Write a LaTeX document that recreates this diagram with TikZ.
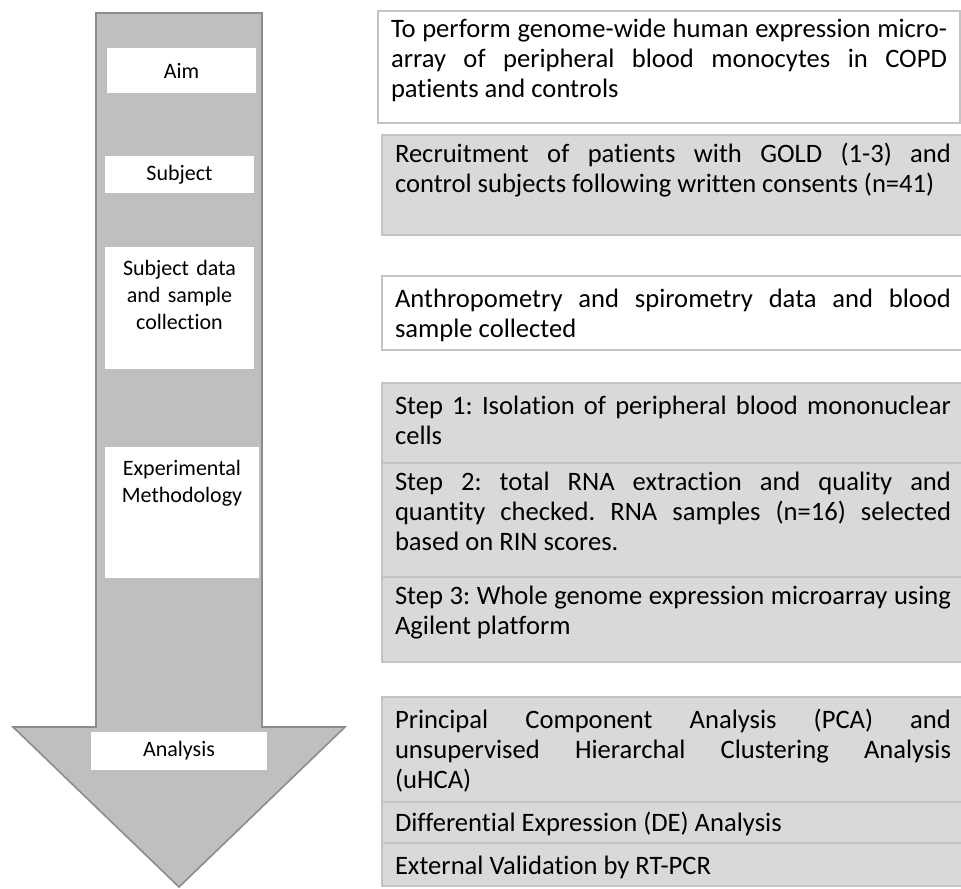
\documentclass[tikz,border=0pt]{standalone}
\usepackage{fontspec}
\setmainfont{Carlito}[Ligatures={NoCommon,NoRequired,NoContextual}]
\usepackage{tikz}
\frenchspacing

\definecolor{arrowgray}{HTML}{BFBFBF}
\definecolor{arrowline}{HTML}{8C8C8C}
\definecolor{boxgray}{HTML}{D9D9D9}
\definecolor{boxline}{HTML}{C4C4C4}

\begin{document}
\begin{tikzpicture}[x=0.5pt,y=-0.5pt,
  stagebox/.style={fill=white,inner sep=0pt,outer sep=0pt,align=center,
    font=\fontsize{11}{13.5}\selectfont},
  topstage/.style={stagebox,anchor=north west,inner ysep=4pt,text height=10pt},
  infobox/.style={draw=boxline,line width=0.8pt,anchor=north west,outer sep=0pt,
    inner xsep=6.5pt,text width=278pt,align=justify,text height=10.5pt,
    font=\fontsize{13.3}{15}\selectfont},
  greybox/.style={infobox,fill=boxgray},
  whitebox/.style={infobox,fill=white}]
\useasboundingbox (0,0) rectangle (961,888);

\draw[fill=arrowgray,draw=arrowline,line width=0.8pt] (96,13) -- (262,13) -- (262,727)
  -- (345,727) -- (179,887) -- (13,727) -- (96,727) -- cycle;

\node[stagebox,minimum width=74.5pt,minimum height=22.5pt] (aim) at (181.5,70.5) {Aim};
\node[stagebox,minimum width=74.5pt,minimum height=18.5pt] (subject) at (179.5,174.5) {Subject};
\node[topstage,text width=74.5pt,text depth=43pt] (collect) at (105,247) {Subject data\\and sample\\collection};
\node[topstage,text width=77pt,text depth=47.5pt] (method) at (105,447) {Experimental\\Methodology};
\node[stagebox,minimum width=88pt,minimum height=19pt] (analysis) at (179,751) {Analysis};

\node[whitebox,inner ysep=3pt,text depth=39.5pt] (aimtext) at (378,11)
  {To perform genome-wide human expression micro-\linebreak array of peripheral blood monocytes in COPD\linebreak patients and controls};
\node[greybox,inner ysep=3pt,text depth=33.5pt] (subjecttext) at (382,135)
  {Recruitment of patients with GOLD (1-3) and\linebreak control subjects following written consents (n=41)};
\node[whitebox,inner ysep=5pt,text depth=16.5pt] (collecttext) at (382,276)
  {Anthropometry and spirometry data and blood\linebreak sample collected};
\node[greybox,inner ysep=5pt,text depth=19.5pt] (stepone) at (382,383)
  {Step 1: Isolation of peripheral blood mononuclear\linebreak cells};
\node[greybox,inner ysep=3pt,text depth=40.5pt] (steptwo) at (382,463)
  {Step 2: total RNA extraction and quality and\linebreak quantity checked. RNA samples (n=16) selected\linebreak based on RIN scores.};
\node[greybox,inner ysep=3pt,text depth=26pt] (stepthree) at (382,577)
  {Step 3: Whole genome expression microarray using\linebreak Agilent platform};
\node[greybox,inner ysep=5pt,text depth=32pt] (pca) at (382,697)
  {Principal Component Analysis (PCA) and\linebreak unsupervised Hierarchal Clustering Analysis\linebreak (uHCA)};
\node[greybox,inner ysep=4pt,text depth=2pt] (detext) at (382,802)
  {Differential Expression (DE) Analysis};
\node[greybox,inner ysep=5pt,text depth=1pt] (rtpcr) at (382,843)
  {External Validation by RT-PCR};
\end{tikzpicture}
\end{document}
